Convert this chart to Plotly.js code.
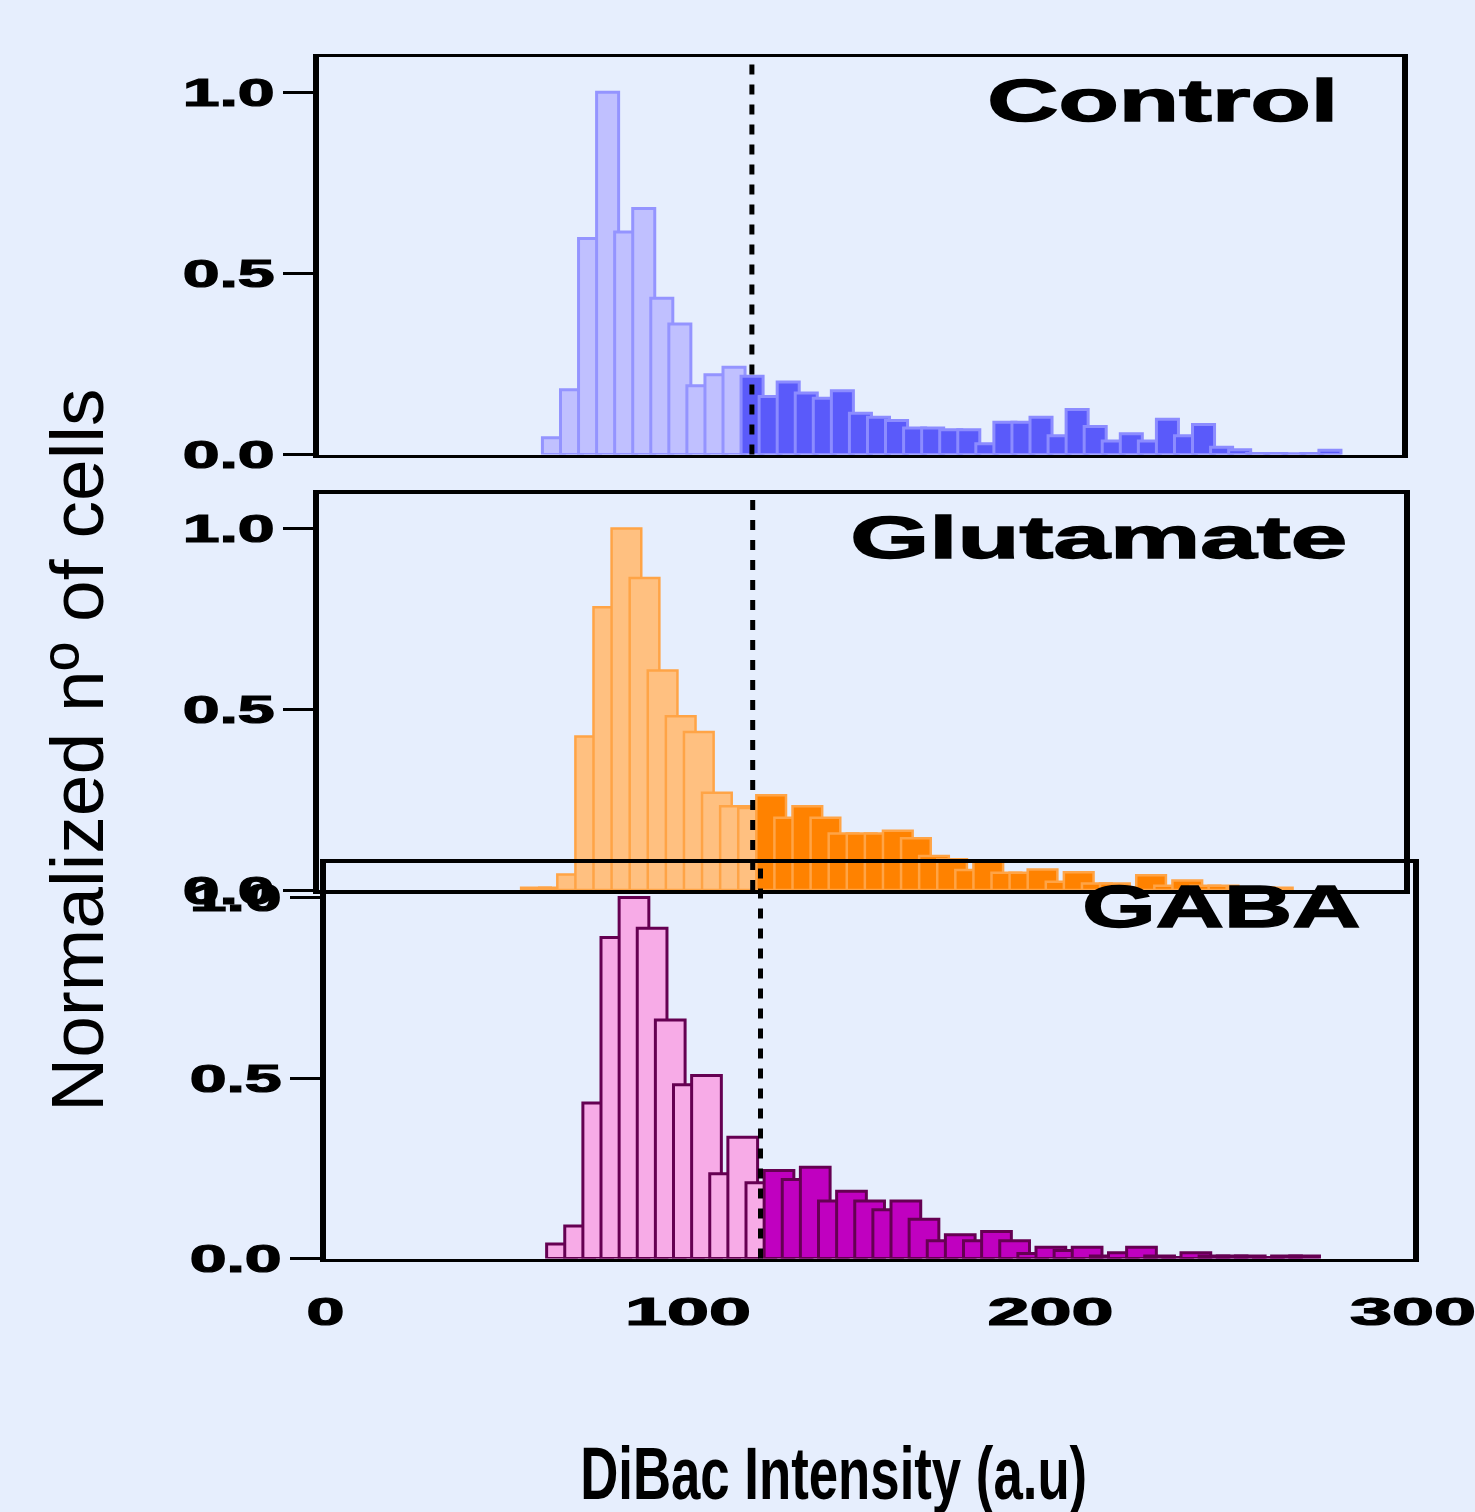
<!DOCTYPE html>
<html>
<head>
<meta charset="utf-8">
<script src="https://cdn.plot.ly/plotly-3.0.1.min.js"></script>
<style>
  html, body { margin: 0; padding: 0; background: #e6eefd; }
  #chart { width: 1475px; height: 1512px; }
</style>
</head>
<body>
<div id="chart"></div>
<script>
// Normalized DiBac intensity histograms (bin width 5 a.u.), split at the 120 a.u. threshold
const BIN = 5;
const THRESHOLD = 120;

// Control
const controlLowStart = 62;
const controlLow = [0.046, 0.179, 0.596, 1.0, 0.614, 0.679, 0.431, 0.36, 0.19, 0.22, 0.241];
const controlHighStart = 117;
const controlHigh = [0.216, 0.16, 0.20, 0.17, 0.155, 0.176, 0.114, 0.103, 0.094, 0.073,
  0.073, 0.068, 0.068, 0.03, 0.089, 0.089, 0.103, 0.052, 0.124, 0.077,
  0.037, 0.057, 0.037, 0.097, 0.052, 0.083, 0.02, 0.013, 0.003, 0.003,
  0.002, 0.003, 0.012];

// Glutamate
const glutLowStart = 56;
const glutLow = [0.006, 0.006, 0.043, 0.425, 0.782, 1.0, 0.863, 0.607, 0.481, 0.437, 0.269, 0.232, 0.227];
const glutHighStart = 121;
const glutHigh = [0.262, 0.2, 0.232, 0.2, 0.156, 0.156, 0.156, 0.164, 0.143, 0.094,
  0.085, 0.055, 0.078, 0.048, 0.048, 0.057, 0.023, 0.049, 0.018, 0.018,
  0.006, 0.041, 0.012, 0.026, 0.012, 0.012, 0.006, 0.006, 0.006];

// GABA
const gabaLowStart = 61;
const gabaLow = [0.04, 0.09, 0.431, 0.889, 1.0, 0.915, 0.661, 0.481, 0.507, 0.235, 0.336, 0.21];
const gabaHighStart = 121;
const gabaHigh = [0.244, 0.219, 0.253, 0.159, 0.186, 0.159, 0.135, 0.159, 0.109, 0.049,
  0.066, 0.049, 0.075, 0.049, 0.014, 0.031, 0.022, 0.031, 0.007, 0.016,
  0.031, 0.007, 0.003, 0.016, 0.007, 0.007, 0.007, 0.003, 0.007, 0.007];

const panelNames = ['Control', 'Glutamate', 'GABA'];
const yTickVals = [0, 0.5, 1];
const yTickText = ['0.0', '0.5', '1.0'];
const xTickVals = [0, 100, 200, 300];
const xTickText = ['0', '100', '200', '300'];
const xTitle = 'DiBac Intensity (a.u)';
const yTitle = 'Normalized nº of cells';

// ---- layout helpers (pixel boxes -> paper fractions) ----
const W = 1475, H = 1512;
const fx = px => px / W;
const fy = py => 1 - py / H;

function edges(start, n) {
  return Array.from({ length: n }, (_, i) => start + i * BIN);
}

function bars(start, vals, barWidth, fill, outline, lw, xa, ya) {
  return {
    type: 'bar',
    x: edges(start, vals.length),
    y: vals,
    width: barWidth,
    offset: 0,
    marker: { color: fill, line: { color: outline, width: lw } },
    xaxis: xa, yaxis: ya,
    hoverinfo: 'skip',
    showlegend: false
  };
}

const traces = [
  bars(controlLowStart, controlLow, 6.1, '#c0c0ff', '#9494ff', 3, 'x', 'y'),
  bars(controlHighStart, controlHigh, 6.1, '#5a5afa', '#8c8cff', 3, 'x', 'y'),
  bars(glutLowStart, glutLow, 8.2, '#ffc080', '#ffa446', 2.5, 'x2', 'y2'),
  bars(glutHighStart, glutHigh, 8.2, '#ff8200', '#ffa446', 2.5, 'x2', 'y2'),
  bars(gabaLowStart, gabaLow, 8.2, '#f7abe7', '#650052', 3, 'x3', 'y3'),
  bars(gabaHighStart, gabaHigh, 8.2, '#c000c0', '#650052', 3, 'x3', 'y3')
];

const tickFont = { family: 'Liberation Sans, Arial, sans-serif', size: 39, weight: 700, color: '#000' };

function xAxis(left, right, anchor, labels) {
  return {
    domain: [fx(left), fx(right)], range: [0, 300], anchor: anchor,
    showline: true, linewidth: 3.5, linecolor: '#000', mirror: true,
    showgrid: false, zeroline: false, fixedrange: true,
    ticks: '', showticklabels: labels,
    tickvals: xTickVals, ticktext: xTickText, tickfont: tickFont,
    ticklabelstandoff: 16
  };
}

function yAxis(top, bottom, anchor) {
  return {
    domain: [fy(bottom), fy(top)], range: [0, 1.097], anchor: anchor,
    showline: true, linewidth: 6, linecolor: '#000', mirror: true,
    showgrid: false, zeroline: false, fixedrange: true,
    ticks: 'outside', ticklen: 30, tickwidth: 3, tickcolor: '#000',
    tickvals: yTickVals, ticktext: yTickText, tickfont: tickFont
  };
}

function cutLine(xa, ya) {
  return {
    type: 'line', xref: xa, yref: ya + ' domain',
    x0: THRESHOLD, x1: THRESHOLD, y0: 0, y1: 1,
    line: { color: '#000', width: 5, dash: '10px,10px' }
  };
}

const panelFont = { family: 'Liberation Sans, Arial, sans-serif', size: 60, weight: 700, color: '#000' };

const annotations = [
  { text: panelNames[0], x: fx(1162.5), y: fy(100.5), font: panelFont },
  { text: panelNames[1], x: fx(1098.5), y: fy(537), font: panelFont },
  { text: panelNames[2], x: fx(1221), y: fy(906), font: panelFont },
  { text: xTitle, x: fx(833.5), y: fy(1473.5),
    font: { family: 'Liberation Sans, Arial, sans-serif', size: 74, weight: 700, color: '#000' } },
  { text: yTitle, x: fx(77), y: fy(750), textangle: -90,
    font: { family: 'Liberation Sans, Arial, sans-serif', size: 75, color: '#000' } }
].map(a => Object.assign({ xref: 'paper', yref: 'paper', xanchor: 'center', yanchor: 'middle', showarrow: false }, a));

// rendered widths and stroke weight of the wide display lettering
const annotationWidths = [351, 497, 278, 507, null];
const annotationStroke = [1.4, 1.4, 1.4, 0, 0];
const yTickWidth = 92;
const xTickWidths = { 1: 38, 3: 126 };
const tickStroke = 1.2;

const layout = {
  width: W, height: H,
  margin: { l: 0, r: 0, t: 0, b: 0 },
  paper_bgcolor: '#e6eefd',
  plot_bgcolor: 'rgba(0,0,0,0)',
  barmode: 'overlay',
  bargap: 0,
  hovermode: false,
  showlegend: false,
  xaxis: xAxis(318.5, 1402, 'y', false),
  yaxis: yAxis(57, 454.5, 'x'),
  xaxis2: xAxis(318.5, 1404, 'y2', false),
  yaxis2: yAxis(493.5, 890, 'x2'),
  xaxis3: xAxis(325.5, 1413, 'y3', true),
  yaxis3: yAxis(862.5, 1258.5, 'x3'),
  shapes: [cutLine('x', 'y'), cutLine('x2', 'y2'), cutLine('x3', 'y3')],
  annotations: annotations
};

function setWidth(el, w, stroke) {
  if (w) {
    el.setAttribute('textLength', w);
    el.setAttribute('lengthAdjust', 'spacingAndGlyphs');
  }
  if (stroke) {
    el.style.stroke = '#000';
    el.style.strokeWidth = stroke + 'px';
  }
}

Plotly.newPlot('chart', traces, layout, { displayModeBar: false, staticPlot: true }).then(gd => {
  gd.querySelectorAll('.yaxislayer-above text').forEach(t => setWidth(t, yTickWidth, tickStroke));
  gd.querySelectorAll('.xaxislayer-above text').forEach(t =>
    setWidth(t, xTickWidths[t.textContent.length], tickStroke));
  gd.querySelectorAll('g.annotation').forEach(g => {
    const i = +g.getAttribute('data-index');
    const t = g.querySelector('text.annotation-text');
    if (t) setWidth(t, annotationWidths[i], annotationStroke[i]);
  });
});
</script>
</body>
</html>
